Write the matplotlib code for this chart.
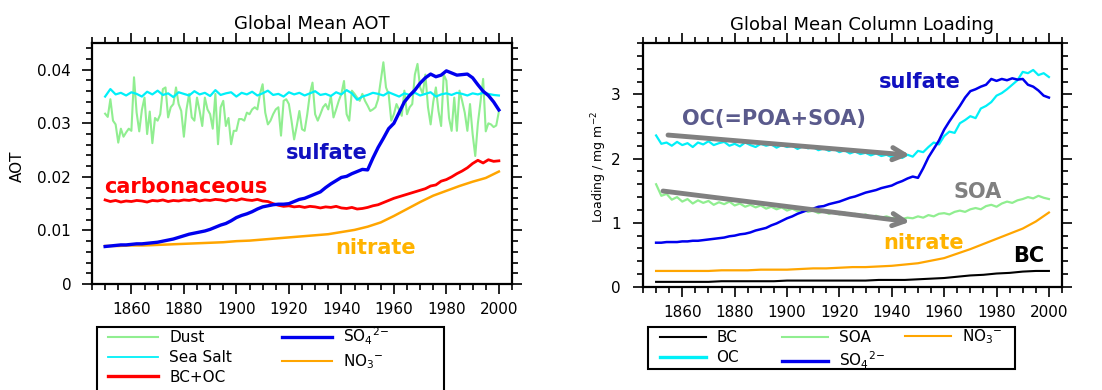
import matplotlib
matplotlib.use('Agg')
import matplotlib.pyplot as plt
from matplotlib.lines import Line2D
from matplotlib.patches import Rectangle
from matplotlib.ticker import MultipleLocator
import numpy as np

# ---------------- data: Global Mean AOT ----------------
years_1 = np.arange(1850, 2001)        # annual
years_2 = np.arange(1850, 2001, 2)     # every 2 years
years_5 = np.arange(1850, 2001, 5)     # every 5 years

dust_aot = [
    0.0318, 0.0312, 0.0345, 0.0305, 0.0298, 0.0264, 0.0290, 0.0275, 0.0283, 0.0290,
    0.0286, 0.0386, 0.0320, 0.0285, 0.0325, 0.0348, 0.0280, 0.0322, 0.0263, 0.0310,
    0.0305, 0.0317, 0.0364, 0.0367, 0.0311, 0.0330, 0.0336, 0.0367, 0.0336, 0.0323,
    0.0275, 0.0326, 0.0355, 0.0311, 0.0305, 0.0348, 0.0323, 0.0295, 0.0348, 0.0326,
    0.0317, 0.0290, 0.0355, 0.0261, 0.0330, 0.0342, 0.0295, 0.0310, 0.0261, 0.0286,
    0.0286, 0.0308, 0.0308, 0.0305, 0.0320, 0.0317, 0.0326, 0.0330, 0.0326, 0.0355,
    0.0373, 0.0320, 0.0298, 0.0305, 0.0317, 0.0326, 0.0330, 0.0277, 0.0342, 0.0345,
    0.0336, 0.0305, 0.0270, 0.0295, 0.0323, 0.0289, 0.0286, 0.0317, 0.0355, 0.0376,
    0.0317, 0.0305, 0.0317, 0.0330, 0.0336, 0.0326, 0.0351, 0.0311, 0.0326, 0.0342,
    0.0355, 0.0379, 0.0317, 0.0305, 0.0361, 0.0355, 0.0348, 0.0342, 0.0355, 0.0342,
    0.0333, 0.0323, 0.0326, 0.0330, 0.0345, 0.0380, 0.0414, 0.0367, 0.0355, 0.0305,
    0.0317, 0.0336, 0.0325, 0.0314, 0.0361, 0.0317, 0.0330, 0.0336, 0.0391, 0.0411,
    0.0367, 0.0355, 0.0391, 0.0330, 0.0298, 0.0340, 0.0367, 0.0323, 0.0295, 0.0391,
    0.0380, 0.0310, 0.0286, 0.0348, 0.0286, 0.0361, 0.0342, 0.0320, 0.0286, 0.0336,
    0.0280, 0.0239, 0.0300, 0.0340, 0.0383, 0.0285, 0.0300, 0.0298, 0.0293, 0.0296,
    0.0322]

seasalt_aot = [
    0.0350, 0.0364, 0.0354, 0.0357, 0.0352, 0.0358, 0.0355, 0.0350, 0.0359, 0.0354,
    0.0361, 0.0353, 0.0356, 0.0349, 0.0358, 0.0355, 0.0352, 0.0360, 0.0354, 0.0357,
    0.0351, 0.0362, 0.0353, 0.0356, 0.0358, 0.0350, 0.0357, 0.0354, 0.0359, 0.0352,
    0.0356, 0.0361, 0.0353, 0.0355, 0.0350, 0.0358, 0.0354, 0.0357, 0.0352, 0.0356,
    0.0360, 0.0353, 0.0355, 0.0351, 0.0358, 0.0354, 0.0362, 0.0356, 0.0344, 0.0350,
    0.0353, 0.0357, 0.0355, 0.0352, 0.0358, 0.0354, 0.0350, 0.0356, 0.0353, 0.0357,
    0.0352, 0.0355, 0.0358, 0.0350, 0.0354, 0.0356, 0.0353, 0.0357, 0.0355, 0.0352,
    0.0356, 0.0354, 0.0357, 0.0355, 0.0353, 0.0352]

carb_aot = [
    0.0157, 0.0154, 0.0156, 0.0153, 0.0155, 0.0154, 0.0156, 0.0155, 0.0153, 0.0156,
    0.0155, 0.0157, 0.0154, 0.0156, 0.0155, 0.0157, 0.0156, 0.0158, 0.0155, 0.0157,
    0.0156, 0.0158, 0.0157, 0.0155, 0.0158, 0.0156, 0.0159, 0.0157, 0.0156, 0.0158,
    0.0155, 0.0154, 0.0150, 0.0147, 0.0145, 0.0146, 0.0144, 0.0145, 0.0143, 0.0145,
    0.0144, 0.0142, 0.0144, 0.0143, 0.0145, 0.0142, 0.0141, 0.0143, 0.0140, 0.0141,
    0.0143, 0.0146, 0.0148, 0.0152, 0.0156, 0.0160, 0.0163, 0.0166, 0.0169, 0.0172,
    0.0175, 0.0178, 0.0183, 0.0185, 0.0192, 0.0195, 0.0200, 0.0206, 0.0211, 0.0217,
    0.0225, 0.0231, 0.0226, 0.0232, 0.0229, 0.0230]

sulf_aot = [
    0.0070, 0.0071, 0.0072, 0.0073, 0.0073, 0.0074, 0.0075, 0.0075, 0.0076, 0.0077,
    0.0078, 0.0080, 0.0082, 0.0084, 0.0087, 0.0090, 0.0093, 0.0095, 0.0097, 0.0099,
    0.0102, 0.0106, 0.0110, 0.0113, 0.0118, 0.0124, 0.0128, 0.0131, 0.0135, 0.0140,
    0.0144, 0.0146, 0.0148, 0.0149, 0.0149, 0.0150, 0.0154, 0.0158, 0.0160, 0.0164,
    0.0168, 0.0172, 0.0180, 0.0187, 0.0193, 0.0199, 0.0201, 0.0206, 0.0210, 0.0214,
    0.0213, 0.0235, 0.0255, 0.0272, 0.0290, 0.0300, 0.0320, 0.0340, 0.0352, 0.0362,
    0.0375, 0.0385, 0.0392, 0.0387, 0.0390, 0.0398, 0.0394, 0.0390, 0.0391, 0.0392,
    0.0385, 0.0372, 0.0360, 0.0352, 0.0340, 0.0325]

nitr_aot = [
    0.0071, 0.0071, 0.0072, 0.0072, 0.0073, 0.0074, 0.0075, 0.0076, 0.0077, 0.0078,
    0.0080, 0.0081, 0.0083, 0.0085, 0.0087, 0.0089, 0.0091, 0.0093, 0.0097, 0.0101,
    0.0107, 0.0115, 0.0127, 0.0140, 0.0153, 0.0165, 0.0174, 0.0183, 0.0191, 0.0198,
    0.0210]

# ---------------- data: Global Mean Column Loading ----------------
oc_load = [
    2.36, 2.23, 2.25, 2.20, 2.26, 2.21, 2.24, 2.18, 2.25, 2.22,
    2.27, 2.21, 2.24, 2.26, 2.20, 2.23, 2.19, 2.25, 2.21, 2.18,
    2.23, 2.20, 2.22, 2.17, 2.21, 2.18, 2.20, 2.15, 2.19, 2.16,
    2.18, 2.13, 2.16, 2.12, 2.15, 2.10, 2.13, 2.08, 2.11, 2.07,
    2.09, 2.05, 2.08, 2.04, 2.06, 2.02, 2.05, 2.01, 2.06, 2.03,
    2.12, 2.10, 2.18, 2.25, 2.22, 2.35, 2.42, 2.40, 2.55, 2.60,
    2.66, 2.63, 2.78, 2.82, 2.88, 2.98, 3.02, 3.08, 3.15, 3.22,
    3.35, 3.33, 3.38, 3.30, 3.33, 3.27]

sulf_load = [
    0.69, 0.69, 0.70, 0.70, 0.70, 0.71, 0.71, 0.72, 0.72, 0.73,
    0.74, 0.75, 0.76, 0.77, 0.79, 0.80, 0.82, 0.83, 0.85, 0.88,
    0.90, 0.92, 0.96, 0.99, 1.03, 1.07, 1.10, 1.14, 1.17, 1.20,
    1.22, 1.25, 1.26, 1.29, 1.31, 1.33, 1.36, 1.39, 1.41, 1.44,
    1.47, 1.49, 1.51, 1.54, 1.56, 1.58, 1.62, 1.65, 1.69, 1.72,
    1.70, 1.85, 2.02, 2.15, 2.28, 2.45, 2.58, 2.70, 2.82, 2.95,
    3.05, 3.08, 3.12, 3.15, 3.24, 3.21, 3.24, 3.22, 3.25, 3.23,
    3.24, 3.15, 3.12, 3.06, 2.98, 2.95]

soa_load = [
    1.60, 1.42, 1.45, 1.36, 1.40, 1.33, 1.37, 1.30, 1.35, 1.31,
    1.34, 1.28, 1.32, 1.29, 1.33, 1.27, 1.30, 1.25, 1.28, 1.24,
    1.27, 1.22, 1.25, 1.21, 1.24, 1.19, 1.22, 1.18, 1.21, 1.17,
    1.19, 1.15, 1.18, 1.14, 1.17, 1.13, 1.16, 1.12, 1.14, 1.10,
    1.13, 1.09, 1.11, 1.08, 1.10, 1.07, 1.09, 1.06, 1.08, 1.07,
    1.10, 1.08, 1.12, 1.10, 1.14, 1.15, 1.13, 1.17, 1.19, 1.17,
    1.21, 1.23, 1.21, 1.26, 1.28, 1.25, 1.30, 1.33, 1.31, 1.35,
    1.37, 1.40, 1.38, 1.42, 1.39, 1.37]

nitr_load = [
    0.25, 0.25, 0.25, 0.25, 0.25, 0.26, 0.26, 0.26, 0.27, 0.27,
    0.27, 0.28, 0.29, 0.29, 0.30, 0.31, 0.31, 0.32, 0.33, 0.35,
    0.37, 0.41, 0.45, 0.52, 0.59, 0.67, 0.75, 0.83, 0.91, 1.02,
    1.16]

bc_load = [
    0.08, 0.08, 0.08, 0.08, 0.08, 0.09, 0.09, 0.09, 0.09, 0.09,
    0.10, 0.10, 0.10, 0.10, 0.10, 0.10, 0.10, 0.11, 0.11, 0.11,
    0.12, 0.13, 0.14, 0.16, 0.18, 0.19, 0.21, 0.22, 0.24, 0.25,
    0.25]

year_ticks = [1860, 1880, 1900, 1920, 1940, 1960, 1980, 2000]

c_dust = '#90ee90'
c_salt = '#00f0f8'
c_red = '#ff0000'
c_blue = '#0000ee'
c_orange = '#ffa500'

W, H = 1102, 390
fig = plt.figure(figsize=(W / 100, H / 100), dpi=100)
ax1 = fig.add_axes([92 / W, 1 - 284 / H, 420 / W, 241 / H])
ax2 = fig.add_axes([643 / W, 1 - 287 / H, 419 / W, 244 / H])


def style_axes(ax):
    ax.set_xlim(1845, 2005)
    ax.set_xticks(year_ticks)
    ax.xaxis.set_minor_locator(MultipleLocator(5))
    ax.tick_params(which='both', direction='out', top=True, right=True,
                   width=1.2, labelsize=11)
    ax.tick_params(which='major', length=7)
    ax.tick_params(which='minor', length=4)
    ax.tick_params(axis='x', pad=6)
    ax.tick_params(axis='y', pad=8)
    for s in ax.spines.values():
        s.set_linewidth(1.6)


# ---- left panel ----
ax1.plot(years_1, dust_aot, color=c_dust, lw=1.5)
ax1.plot(years_2, seasalt_aot, color=c_salt, lw=1.6)
ax1.plot(years_2, carb_aot, color=c_red, lw=2.0)
ax1.plot(years_5, nitr_aot, color=c_orange, lw=1.8)
ax1.plot(years_2, sulf_aot, color=c_blue, lw=2.4)
style_axes(ax1)
ax1.set_ylim(0, 0.045)
ax1.set_yticks([0, 0.01, 0.02, 0.03, 0.04])
ax1.set_yticklabels(['0', '0.01', '0.02', '0.03', '0.04'])
ax1.yaxis.set_minor_locator(MultipleLocator(0.002))
ax1.set_ylabel('AOT', fontsize=11)
ax1.yaxis.set_label_coords(-0.16, 0.49)
ax1.text(0.524, 1.079, 'Global Mean AOT', transform=ax1.transAxes,
         ha='center', va='center', fontsize=13)

ax1.text(1919, 0.0244, 'sulfate', color='#1010c0', fontsize=15,
         fontweight='bold', ha='left', va='center')
ax1.text(1849.7, 0.0182, 'carbonaceous', color=c_red, fontsize=15,
         fontweight='bold', ha='left', va='center')
ax1.text(1937.5, 0.0068, 'nitrate', color='#ffb300', fontsize=15,
         fontweight='bold', ha='left', va='center')

# ---- right panel ----
ax2.plot(years_5, bc_load, color='black', lw=1.5)
ax2.plot(years_2, oc_load, color=c_salt, lw=1.6)
ax2.plot(years_2, soa_load, color=c_dust, lw=1.6)
ax2.plot(years_5, nitr_load, color=c_orange, lw=1.6)
ax2.plot(years_2, sulf_load, color=c_blue, lw=1.8)
style_axes(ax2)
ax2.set_ylim(0, 3.8)
ax2.set_yticks([0, 1, 2, 3])
ax2.yaxis.set_minor_locator(MultipleLocator(0.2))
ax2.tick_params(axis='y', pad=9)
ax2.set_ylabel(r'Loading / mg m$^{-2}$', fontsize=9)
ax2.yaxis.set_label_coords(-0.082, 0.49)
ax2.text(0.523, 1.074, 'Global Mean Column Loading', transform=ax2.transAxes,
         ha='center', va='center', fontsize=13)

arrow = dict(arrowstyle='->', color='#808080', lw=3.5, mutation_scale=22)
ax2.annotate('', xy=(1948, 2.05), xytext=(1853.5, 2.37), arrowprops=arrow)
ax2.annotate('', xy=(1948, 1.01), xytext=(1851.6, 1.50), arrowprops=arrow)

ax2.text(1935.2, 3.2, 'sulfate', color='#1010c0', fontsize=15,
         fontweight='bold', ha='left', va='center')
ax2.text(1860, 2.61, 'OC(=POA+SOA)', color='#5a5a8c', fontsize=15,
         fontweight='bold', ha='left', va='center')
ax2.text(1963.4, 1.48, 'SOA', color='#808080', fontsize=15,
         fontweight='bold', ha='left', va='center')
ax2.text(1936.7, 0.69, 'nitrate', color='#ffb300', fontsize=15,
         fontweight='bold', ha='left', va='center')
ax2.text(1986.3, 0.48, 'BC', color='black', fontsize=15,
         fontweight='bold', ha='left', va='center')

# ---- legends: one column each, framed by a drawn box ----
so4 = r'SO$_4$$^{2\mathrm{-}}$'
no3 = r'NO$_3$$^{\mathrm{-}}$'

legend_cols = [
    # (x of handle start px, top px, handle length, entries)
    (108, 330, 3.3, [(c_dust, 1.5, 'Dust'), (c_salt, 1.3, 'Sea Salt'), (c_red, 2.4, 'BC+OC')]),
    (282, 326, 3.3, [(c_blue, 2.4, so4), (c_orange, 1.5, no3)]),
    (660, 330, 3.0, [('black', 1.5, 'BC'), (c_salt, 2.4, 'OC')]),
    (782, 330, 3.0, [(c_dust, 1.5, 'SOA'), (c_blue, 2.4, so4)]),
    (905, 327, 3.0, [(c_orange, 1.5, no3)]),
]
for x0, y0, hl, entries in legend_cols:
    handles = [Line2D([], [], color=c, lw=lw) for c, lw, _ in entries]
    labels = [lab for _, _, lab in entries]
    fig.legend(handles, labels, loc='upper left', frameon=False,
               bbox_to_anchor=(x0 / W, 1 - y0 / H), borderaxespad=0,
               borderpad=0, fontsize=11, handlelength=hl,
               handletextpad=0.7, labelspacing=0.32)

fig.add_artist(Rectangle((97 / W, 1 - 400 / H), (444 - 97) / W, 73 / H,
                         transform=fig.transFigure, fill=False,
                         ec='black', lw=1.5))
fig.add_artist(Rectangle((648 / W, 1 - 369 / H), (1015 - 648) / W, 42 / H,
                         transform=fig.transFigure, fill=False,
                         ec='black', lw=1.5))

fig.savefig('out.png', dpi=100)
